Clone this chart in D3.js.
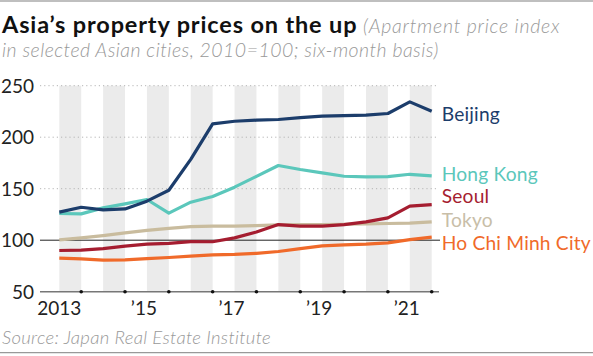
<!DOCTYPE html>
<html>
<head>
<meta charset="utf-8">
<script src="https://cdn.jsdelivr.net/npm/d3@7"></script>
<style>
  html, body { margin: 0; padding: 0; background: #fff; }
  svg { display: block; }
  text { font-family: Lato, "Open Sans", sans-serif; }
</style>
</head>
<body>
<svg id="chart" width="593" height="356"></svg>
<script>
// ---- data ----
const periods = ["2013 H1","2013 H2","2014 H1","2014 H2","2015 H1","2015 H2","2016 H1","2016 H2",
                 "2017 H1","2017 H2","2018 H1","2018 H2","2019 H1","2019 H2","2020 H1","2020 H2",
                 "2021 H1","2021 H2"];
const cities = ["Beijing","Hong Kong","Seoul","Tokyo","Ho Chi Minh City"];
const beijing  = [127.2,132,129.5,130.4,137.9,148.5,178.5,213,215.5,216.5,217.2,219,220.4,221,221.4,223,234.3,225.2];
const hongKong = [125.9,125.6,131.4,135.3,139.5,126.3,136.9,142.5,151.5,162,172.5,168.6,165.4,162.1,161.5,161.8,164,162.5];
const seoul    = [90,90.3,91.9,94.3,96.1,97,98.6,98.5,102.3,108,115.2,113.6,113.6,115.2,117.8,121.7,133,134.6];
const tokyo    = [100.3,102.3,104.5,107.1,109.5,111.5,113.1,113.6,113.6,114.2,114.9,115.2,115.2,115.5,115.8,116.2,116.5,117.8];
const hcmc     = [82.6,81.9,80.6,80.9,82.2,83.2,84.6,85.8,86.3,87.3,89,91.9,94.5,95.5,96.1,97.4,100.6,102.9];
const yTicks   = [50,100,150,200,250];
const xTickLabels = ["2013","’15","’17","’19","’21"];
const xTickPeriods = ["2013 H1","2015 H1","2017 H1","2019 H1","2021 H1"];

const seriesValues = [beijing, hongKong, seoul, tokyo, hcmc];
const colors = ["#1c3d6b","#5bc7bb","#a51d30","#c9bc9e","#f06a2a"];
const labelColors = ["#1c3d6b","#5bc7bb","#a51d30","#c8bea8","#f06a2a"];
const labelDy = [10, 5, -1.3, 4.8, 12.8];

// ---- layout ----
const svg = d3.select("#chart");
const x = d3.scalePoint().domain(periods).range([59.3, 431.7]);
const y = d3.scaleLinear().domain([50, 250]).range([291.7, 85.7]);
const xLeft = 40, xRight = 439;

// frame lines
svg.append("line").attr("x1",0).attr("x2",593).attr("y1",1).attr("y2",1)
  .attr("stroke","#aaa").attr("stroke-width",1.5);
svg.append("line").attr("x1",0).attr("x2",593).attr("y1",352.7).attr("y2",352.7)
  .attr("stroke","#999").attr("stroke-width",1.2);

// title
const title = svg.append("text").attr("x",2).attr("y",33.3);
title.append("tspan").text("Asia’s property prices on the up")
  .attr("font-weight","bold").attr("font-size",23.5).attr("letter-spacing",0.85).attr("fill","#111");
title.append("tspan").text(" (Apartment price index")
  .attr("font-style","italic").attr("font-weight",300).attr("font-size",19.5)
  .attr("letter-spacing",0.75).attr("fill","#999");
svg.append("text").attr("x",2).attr("y",56.7)
  .text("in selected Asian cities, 2010=100; six-month basis)")
  .attr("font-style","italic").attr("font-weight",300).attr("font-size",19.5)
  .attr("letter-spacing",0.45).attr("fill","#999");

// bands (every other half-year)
const bandPeriods = periods.filter((d,i) => i % 2 === 0);
svg.append("g").selectAll("rect").data(bandPeriods).join("rect")
  .attr("x", d => x(d))
  .attr("width", d => x(periods[periods.indexOf(d)+1]) - x(d))
  .attr("y", y(250))
  .attr("height", y(50) - y(250))
  .attr("fill","#ebebeb");

// gridlines
svg.append("g").selectAll("line").data(yTicks.filter(v => v > 100)).join("line")
  .attr("x1", xLeft).attr("x2", 437)
  .attr("y1", d => y(d)).attr("y2", d => y(d))
  .attr("stroke","#b5b5b5").attr("stroke-width",1).attr("stroke-dasharray","1.2,3");
svg.append("line").attr("x1", xLeft).attr("x2", 440)
  .attr("y1", y(100)).attr("y2", y(100))
  .attr("stroke","#222").attr("stroke-width",1);

// y labels
svg.append("g").selectAll("text").data(yTicks).join("text")
  .attr("x", 34).attr("y", d => y(d) + 7)
  .attr("text-anchor","end").attr("font-size",19).attr("fill","#222")
  .text(d => d);

// x axis
svg.append("line").attr("x1", xLeft).attr("x2", xRight)
  .attr("y1", y(50)).attr("y2", y(50))
  .attr("stroke","#777").attr("stroke-width",1.5);
const tickPeriods = periods.filter((d,i) => i % 2 === 1);
svg.append("g").selectAll("circle").data(tickPeriods).join("circle")
  .attr("cx", d => x(d)).attr("cy", y(50)).attr("r", 1.8).attr("fill","#111");
svg.append("g").selectAll("text").data(xTickLabels).join("text")
  .attr("x", (d,i) => x(xTickPeriods[i]) - (i === 0 ? 0 : 3))
  .attr("y", 315)
  .attr("text-anchor","middle").attr("font-size",19).attr("fill","#222")
  .text(d => d);

// lines
const line = d3.line().x((d,i) => x(periods[i])).y(d => y(d)).curve(d3.curveLinear);
svg.append("g").selectAll("path").data(seriesValues.slice().reverse()).join("path")
  .attr("d", d => line(d))
  .attr("fill","none")
  .attr("stroke", (d,i) => colors[seriesValues.length - 1 - i])
  .attr("stroke-width",3.2)
  .attr("stroke-linejoin","round");

// labels
svg.append("g").selectAll("text").data(cities).join("text")
  .attr("x", 441.7)
  .attr("y", (d,i) => y(seriesValues[i][seriesValues[i].length-1]) + labelDy[i])
  .attr("font-size",19.2).attr("letter-spacing",0.2).attr("fill",(d,i) => labelColors[i])
  .text(d => d);

// source
svg.append("text").attr("x",2).attr("y",344)
  .text("Source: Japan Real Estate Institute")
  .attr("font-style","italic").attr("font-weight",300).attr("font-size",18.5)
  .attr("letter-spacing",0.3).attr("fill","#999");
</script>
</body>
</html>
